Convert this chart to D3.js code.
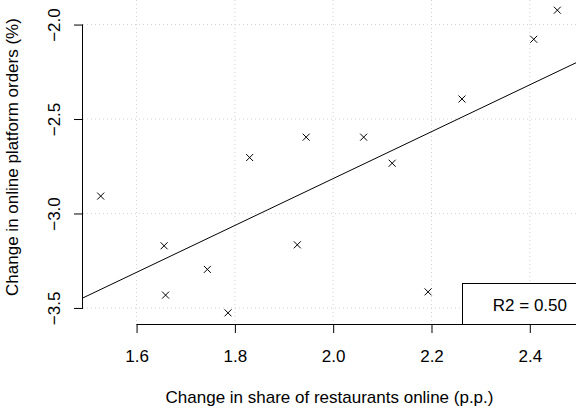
<!DOCTYPE html>
<html>
<head>
<meta charset="utf-8">
<script src="https://cdn.jsdelivr.net/npm/d3@7"></script>
<style>
  body { margin: 0; background: #fff; }
  svg { display: block; font-family: "Liberation Sans", Arial, sans-serif; }
</style>
</head>
<body>
<svg id="chart" width="576" height="410"></svg>
<script>
// share of restaurants online (p.p.) vs online platform orders (%)
const share_change = [1.527, 1.656, 1.659, 1.744, 1.786, 1.830, 1.927, 1.945, 2.062, 2.120, 2.193, 2.262, 2.408, 2.456]
const order_change = [-2.908, -3.171, -3.432, -3.296, -3.526, -2.704, -3.166, -2.596, -2.596, -2.734, -3.415, -2.394, -2.078, -1.924]
const x_ticks = [1.6, 1.8, 2.0, 2.2, 2.4]
const y_ticks = [-2.0, -2.5, -3.0, -3.5]
const x_limits = [1.491, 2.494]
const y_limits = [-3.585, -1.870]
const r2_text = "R2 = 0.50"

window.onload = function() {
  let left = 83, right = 576, top = 0, bottom = 324
  let font_size = 17
  let font = "Liberation Sans, Arial, sans-serif"

  let svg = d3.select("#chart")
  let x = d3.scaleLinear().domain(x_limits).range([left, right])
  let y = d3.scaleLinear().domain(y_limits).range([bottom, top])

  let clip = svg.append("clipPath").attr("id", "plot_clip")
  clip.append("rect").attr("x", left).attr("y", top).attr("width", right - left).attr("height", bottom - top)

  // dotted grid
  let grid = svg.append("g").attr("clip-path", "url(#plot_clip)")
  grid.selectAll(".gx").data(x_ticks).join("line")
    .attr("x1", d => x(d)).attr("x2", d => x(d))
    .attr("y1", top).attr("y2", bottom)
    .attr("stroke", "#d3d3d3").attr("stroke-dasharray", "1,3")
  grid.selectAll(".gy").data(y_ticks).join("line")
    .attr("x1", left).attr("x2", right)
    .attr("y1", d => y(d)).attr("y2", d => y(d))
    .attr("stroke", "#d3d3d3").attr("stroke-dasharray", "1,3")

  // least squares fit
  let mx = d3.mean(share_change), my = d3.mean(order_change)
  let sxy = d3.sum(share_change, (v, i) => (v - mx) * (order_change[i] - my))
  let sxx = d3.sum(share_change, v => (v - mx) * (v - mx))
  let slope = sxy / sxx
  let intercept = my - slope * mx

  svg.append("line")
    .attr("clip-path", "url(#plot_clip)")
    .attr("x1", x(x_limits[0])).attr("y1", y(intercept + slope * x_limits[0]))
    .attr("x2", x(x_limits[1])).attr("y2", y(intercept + slope * x_limits[1]))
    .attr("stroke", "#000").attr("stroke-width", 1)

  // x markers
  let s = 3.5
  let pts = svg.append("g")
  share_change.forEach(function(v, i) {
    let px = x(v), py = y(order_change[i])
    pts.append("path")
      .attr("d", `M${px - s},${py - s}L${px + s},${py + s}M${px - s},${py + s}L${px + s},${py - s}`)
      .attr("stroke", "#000").attr("stroke-width", 1).attr("fill", "none")
  })

  // axes
  let x_axis = svg.append("g").attr("transform", `translate(0,${bottom})`)
    .call(d3.axisBottom(x).tickValues(x_ticks).tickSize(9).tickSizeOuter(0).tickFormat(d3.format(".1f")))
  x_axis.select(".domain").attr("d", `M${x(x_ticks[0])},0.5H${x(x_ticks[x_ticks.length - 1])}`)
  x_axis.selectAll(".tick text")
    .attr("font-size", font_size).attr("font-family", font).attr("fill", "#000")
    .attr("dy", null).attr("y", 38)

  let y_axis = svg.append("g").attr("transform", `translate(${left},0)`)
    .call(d3.axisLeft(y).tickValues(y_ticks).tickSize(9).tickSizeOuter(0).tickFormat(d => d3.format(".1f")(d).replace("-", "\u2212")))
  y_axis.select(".domain").attr("d", `M-0.5,${y(y_ticks[0])}V${y(y_ticks[y_ticks.length - 1])}`)
  y_axis.selectAll(".tick text")
    .attr("font-size", font_size).attr("font-family", font).attr("fill", "#000")
    .attr("x", null).attr("dy", null)
    .attr("text-anchor", "middle")
    .attr("transform", "translate(-23,0) rotate(-90)")

  // axis titles
  svg.append("text")
    .attr("x", (left + right) / 2).attr("y", 403)
    .attr("text-anchor", "middle").attr("font-size", font_size)
    .text("Change in share of restaurants online (p.p.)")
  svg.append("text")
    .attr("transform", `translate(18,157) rotate(-90)`)
    .attr("text-anchor", "middle").attr("font-size", font_size)
    .text("Change in online platform orders (%)")

  // legend box
  let box_left = 462
  svg.append("rect")
    .attr("x", box_left + 0.5).attr("y", 283.5)
    .attr("width", right - box_left + 5).attr("height", bottom - 283)
    .attr("fill", "#fff").attr("stroke", "#000")
  svg.append("text")
    .attr("x", 567).attr("y", 310.5)
    .attr("text-anchor", "end").attr("font-size", font_size)
    .text(r2_text)
}
</script>
</body>
</html>
